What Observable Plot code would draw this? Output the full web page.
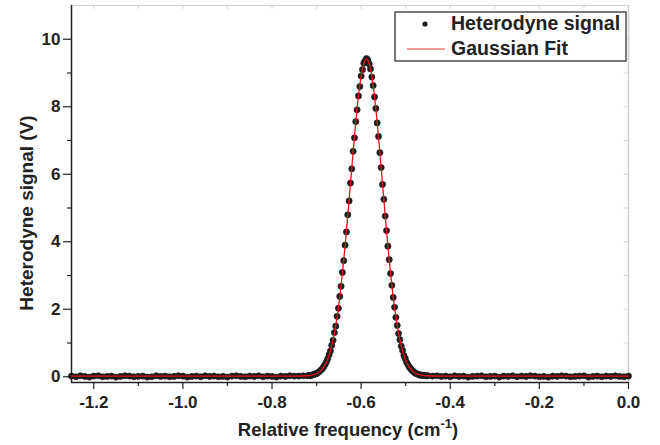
<!DOCTYPE html>
<html>
<head>
<meta charset="utf-8">
<script src="https://cdn.jsdelivr.net/npm/d3@7"></script>
<script src="https://cdn.jsdelivr.net/npm/@observablehq/plot@0.6"></script>
<style>
  html, body { margin: 0; padding: 0; background: #fff; }
  #chart { width: 660px; height: 445px; }
</style>
</head>
<body>
<div id="chart"></div>
<script>
// ---- Data ----
const leftX = [-1.25,-1.24,-1.23,-1.22,-1.21,-1.20,-1.19,-1.18,-1.17,-1.16,
  -1.15,-1.14,-1.13,-1.12,-1.11,-1.10,-1.09,-1.08,-1.07,-1.06,
  -1.05,-1.04,-1.03,-1.02,-1.01,-1.00,-0.99,-0.98,-0.97,-0.96,
  -0.95,-0.94,-0.93,-0.92,-0.91,-0.90,-0.89,-0.88,-0.87,-0.86,
  -0.85,-0.84,-0.83,-0.82,-0.81,-0.80,-0.79,-0.78,-0.77,-0.76,
  -0.75,-0.74,-0.73];
const leftY = [0.02,0.00,0.03,0.01,-0.01,0.02,0.03,0.00,0.01,0.02,
  -0.01,0.01,0.03,0.02,0.00,0.01,0.02,-0.01,0.00,0.03,
  0.01,0.02,0.00,0.01,0.03,0.02,-0.01,0.01,0.02,0.00,
  0.03,0.01,0.02,0.00,0.01,-0.01,0.02,0.03,0.01,0.00,
  0.02,0.01,0.03,0.00,0.02,0.01,-0.01,0.02,0.01,0.03,
  0.02,0.02,0.03];
const peakX = [-0.720,-0.717,-0.714,-0.711,-0.708,-0.705,-0.702,-0.699,-0.696,-0.693,
  -0.690,-0.687,-0.684,-0.681,-0.678,-0.675,-0.672,-0.669,-0.666,-0.663,
  -0.660,-0.657,-0.654,-0.651,-0.648,-0.645,-0.642,-0.639,-0.636,-0.633,
  -0.630,-0.627,-0.624,-0.621,-0.618,-0.615,-0.612,-0.609,-0.606,-0.603,
  -0.600,-0.597,-0.594,-0.591,-0.588,-0.585,-0.582,-0.579,-0.576,-0.573,
  -0.570,-0.567,-0.564,-0.561,-0.558,-0.555,-0.552,-0.549,-0.546,-0.543,
  -0.540,-0.537,-0.534,-0.531,-0.528,-0.525,-0.522,-0.519,-0.516,-0.513,
  -0.510,-0.507,-0.504,-0.501,-0.498,-0.495,-0.492,-0.489,-0.486,-0.483,
  -0.480,-0.477,-0.474,-0.471,-0.468,-0.465,-0.462,-0.459,-0.456,-0.453];
const peakY = [0.03,0.04,0.03,0.05,0.06,0.07,0.09,0.10,0.13,0.16,
  0.20,0.24,0.30,0.36,0.44,0.53,0.65,0.76,0.93,1.08,
  1.31,1.50,1.79,2.03,2.38,2.68,3.09,3.44,3.90,4.29,
  4.80,5.21,5.74,6.16,6.68,7.08,7.56,7.91,8.32,8.60,
  8.91,9.10,9.29,9.36,9.43,9.38,9.27,9.12,8.88,8.63,
  8.29,7.95,7.52,7.12,6.64,6.20,5.70,5.26,4.76,4.33,
  3.87,3.47,3.06,2.71,2.35,2.06,1.76,1.52,1.28,1.10,
  0.91,0.78,0.63,0.54,0.43,0.36,0.29,0.24,0.19,0.16,
  0.12,0.10,0.08,0.07,0.05,0.05,0.04,0.04,0.03,0.03];
const rightX = [-0.45,-0.44,-0.43,-0.42,-0.41,-0.40,-0.39,-0.38,-0.37,-0.36,
  -0.35,-0.34,-0.33,-0.32,-0.31,-0.30,-0.29,-0.28,-0.27,-0.26,
  -0.25,-0.24,-0.23,-0.22,-0.21,-0.20,-0.19,-0.18,-0.17,-0.16,
  -0.15,-0.14,-0.13,-0.12,-0.11,-0.10,-0.09,-0.08,-0.07,-0.06,
  -0.05,-0.04,-0.03,-0.02,-0.01,0.00];
const rightY = [0.03,0.02,0.03,0.01,0.02,0.00,0.03,0.01,0.02,-0.01,
  0.01,0.02,0.03,0.00,0.01,0.02,-0.01,0.02,0.01,0.03,
  0.00,0.02,0.01,0.03,0.02,0.00,0.01,-0.01,0.02,0.01,
  0.03,0.02,0.00,0.01,0.02,0.03,-0.01,0.01,0.02,0.00,
  0.02,0.01,0.03,0.01,0.00,0.02];

const fitX = [-1.25,-0.80,-0.75,
  -0.720,-0.714,-0.708,-0.702,-0.696,-0.690,-0.684,-0.678,-0.672,-0.666,-0.660,-0.654,
  -0.648,-0.642,-0.636,-0.630,-0.624,-0.618,-0.612,-0.606,-0.600,-0.594,-0.588,
  -0.582,-0.576,-0.570,-0.564,-0.558,-0.552,-0.546,-0.540,-0.534,-0.528,-0.522,
  -0.516,-0.510,-0.504,-0.498,-0.492,-0.486,-0.480,-0.474,-0.468,-0.462,-0.456,
  -0.42,-0.30,0.00];
const fitY = [0.02,0.02,0.02,
  0.03,0.04,0.06,0.08,0.12,0.19,0.29,0.43,0.64,0.92,1.29,1.77,
  2.36,3.07,3.88,4.78,5.71,6.66,7.54,8.31,8.90,9.28,9.41,
  9.28,8.90,8.31,7.54,6.66,5.71,4.78,3.88,3.07,2.36,1.77,
  1.29,0.92,0.64,0.43,0.29,0.19,0.12,0.08,0.06,0.04,0.03,
  0.02,0.02,0.02];

const xMajor = [-1.2,-1.0,-0.8,-0.6,-0.4,-0.2,0.0];
const xMinor = [-1.1,-0.9,-0.7,-0.5,-0.3,-0.1];
const yMajor = [0,2,4,6,8,10];
const yMinor = [1,3,5,7,9];
const xDomain = [-1.25, 0];
const yDomain = [-0.17, 11];

const seriesNames = ["Heterodyne signal", "Gaussian Fit"];
const xTitle = "Relative frequency (cm";
const xTitleSup = "-1";
const yTitle = "Heterodyne signal (V)";

// ---- Build tables ----
const signal = [];
[[leftX, leftY], [peakX, peakY], [rightX, rightY]].forEach(([xs, ys]) => {
  xs.forEach((x, i) => signal.push({x, y: ys[i]}));
});
const fit = fitX.map((x, i) => ({x, y: fitY[i]}));

const FONT = "'Liberation Sans', Arial, Helvetica, sans-serif";
const INK = "#222";
const RED = "#e3141e";

const chart = Plot.plot({
  width: 660,
  height: 445,
  marginLeft: 71,
  marginRight: 32,
  marginTop: 5,
  marginBottom: 63,
  style: {fontFamily: FONT, fontWeight: "bold", fontSize: "17px", color: INK, background: "#fff", overflow: "visible"},
  x: {domain: xDomain},
  y: {domain: yDomain},
  marks: [
    // light mirror frame (top & right)
    Plot.ruleY([yDomain[1]], {stroke: "#cfcfcf", strokeWidth: 1}),
    Plot.ruleX([xDomain[1]], {stroke: "#cfcfcf", strokeWidth: 1.5}),
    Plot.ruleX(xMajor.concat(xMinor), {x: d => d, y1: yDomain[1], y2: yDomain[1] - 0.12, stroke: "#d5d5d5"}),
    Plot.ruleY(yMajor.concat(yMinor), {y: d => d, x1: xDomain[1], x2: xDomain[1] - 0.01, stroke: "#d5d5d5"}),
    // axes
    Plot.axisX({ticks: xMajor, tickSize: 7, tickPadding: 6, tickFormat: d => d.toFixed(1), label: null, stroke: INK, strokeWidth: 1.2, fill: INK, fontSize: 17}),
    Plot.axisX({ticks: xMinor, tickSize: 4, tickFormat: () => "", label: null, stroke: INK, strokeWidth: 1.2}),
    Plot.axisY({ticks: yMajor, tickSize: 8, tickPadding: 3, tickFormat: d => String(d), label: null, stroke: INK, strokeWidth: 1.2, fill: INK, fontSize: 17}),
    Plot.axisY({ticks: yMinor, tickSize: 4, tickFormat: () => "", label: null, stroke: INK, strokeWidth: 1.2}),
    Plot.ruleX([xDomain[0]], {stroke: INK, strokeWidth: 1.5}),
    Plot.ruleY([yDomain[0]], {stroke: INK, strokeWidth: 1.5}),
    // data
    Plot.dot(signal, {x: "x", y: "y", r: 3.1, fill: "#1c1c1c", stroke: "#1c1c1c", strokeWidth: 0.6}),
    Plot.line(fit, {x: "x", y: "y", stroke: RED, strokeWidth: 1.3, curve: "monotone-x"})
  ]
});

document.getElementById("chart").appendChild(chart);

// ---- Titles and legend ----
const svg = d3.select(chart);

const xt = svg.append("text")
  .attr("x", 348).attr("y", 436)
  .attr("text-anchor", "middle")
  .style("font-family", FONT).style("font-weight", "bold").style("font-size", "18.5px")
  .attr("fill", INK);
xt.append("tspan").text(xTitle);
xt.append("tspan").attr("dy", -8).style("font-size", "13px").text(xTitleSup);
xt.append("tspan").attr("dy", 8).style("font-size", "18.5px").text(")");

svg.append("text")
  .attr("transform", "translate(33,213) rotate(-90)")
  .attr("text-anchor", "middle")
  .style("font-family", FONT).style("font-weight", "bold").style("font-size", "19px")
  .attr("fill", INK)
  .text(yTitle);

const lg = svg.append("g");
lg.append("rect").attr("x", 395).attr("y", 12).attr("width", 231).attr("height", 49)
  .attr("fill", "#fff").attr("stroke", INK).attr("stroke-width", 1.2);
lg.append("circle").attr("cx", 425).attr("cy", 24).attr("r", 2.6).attr("fill", "#1c1c1c");
lg.append("line").attr("x1", 407).attr("x2", 445).attr("y1", 49).attr("y2", 49)
  .attr("stroke", "#f07a7a").attr("stroke-width", 1.4);
lg.selectAll("text.lt").data(seriesNames).join("text")
  .attr("class", "lt")
  .attr("x", 451).attr("y", (d, i) => 30 + i * 25)
  .attr("text-anchor", "start")
  .style("font-family", FONT).style("font-weight", "bold").style("font-size", "19.5px")
  .attr("fill", INK)
  .text(d => d);
</script>
</body>
</html>
